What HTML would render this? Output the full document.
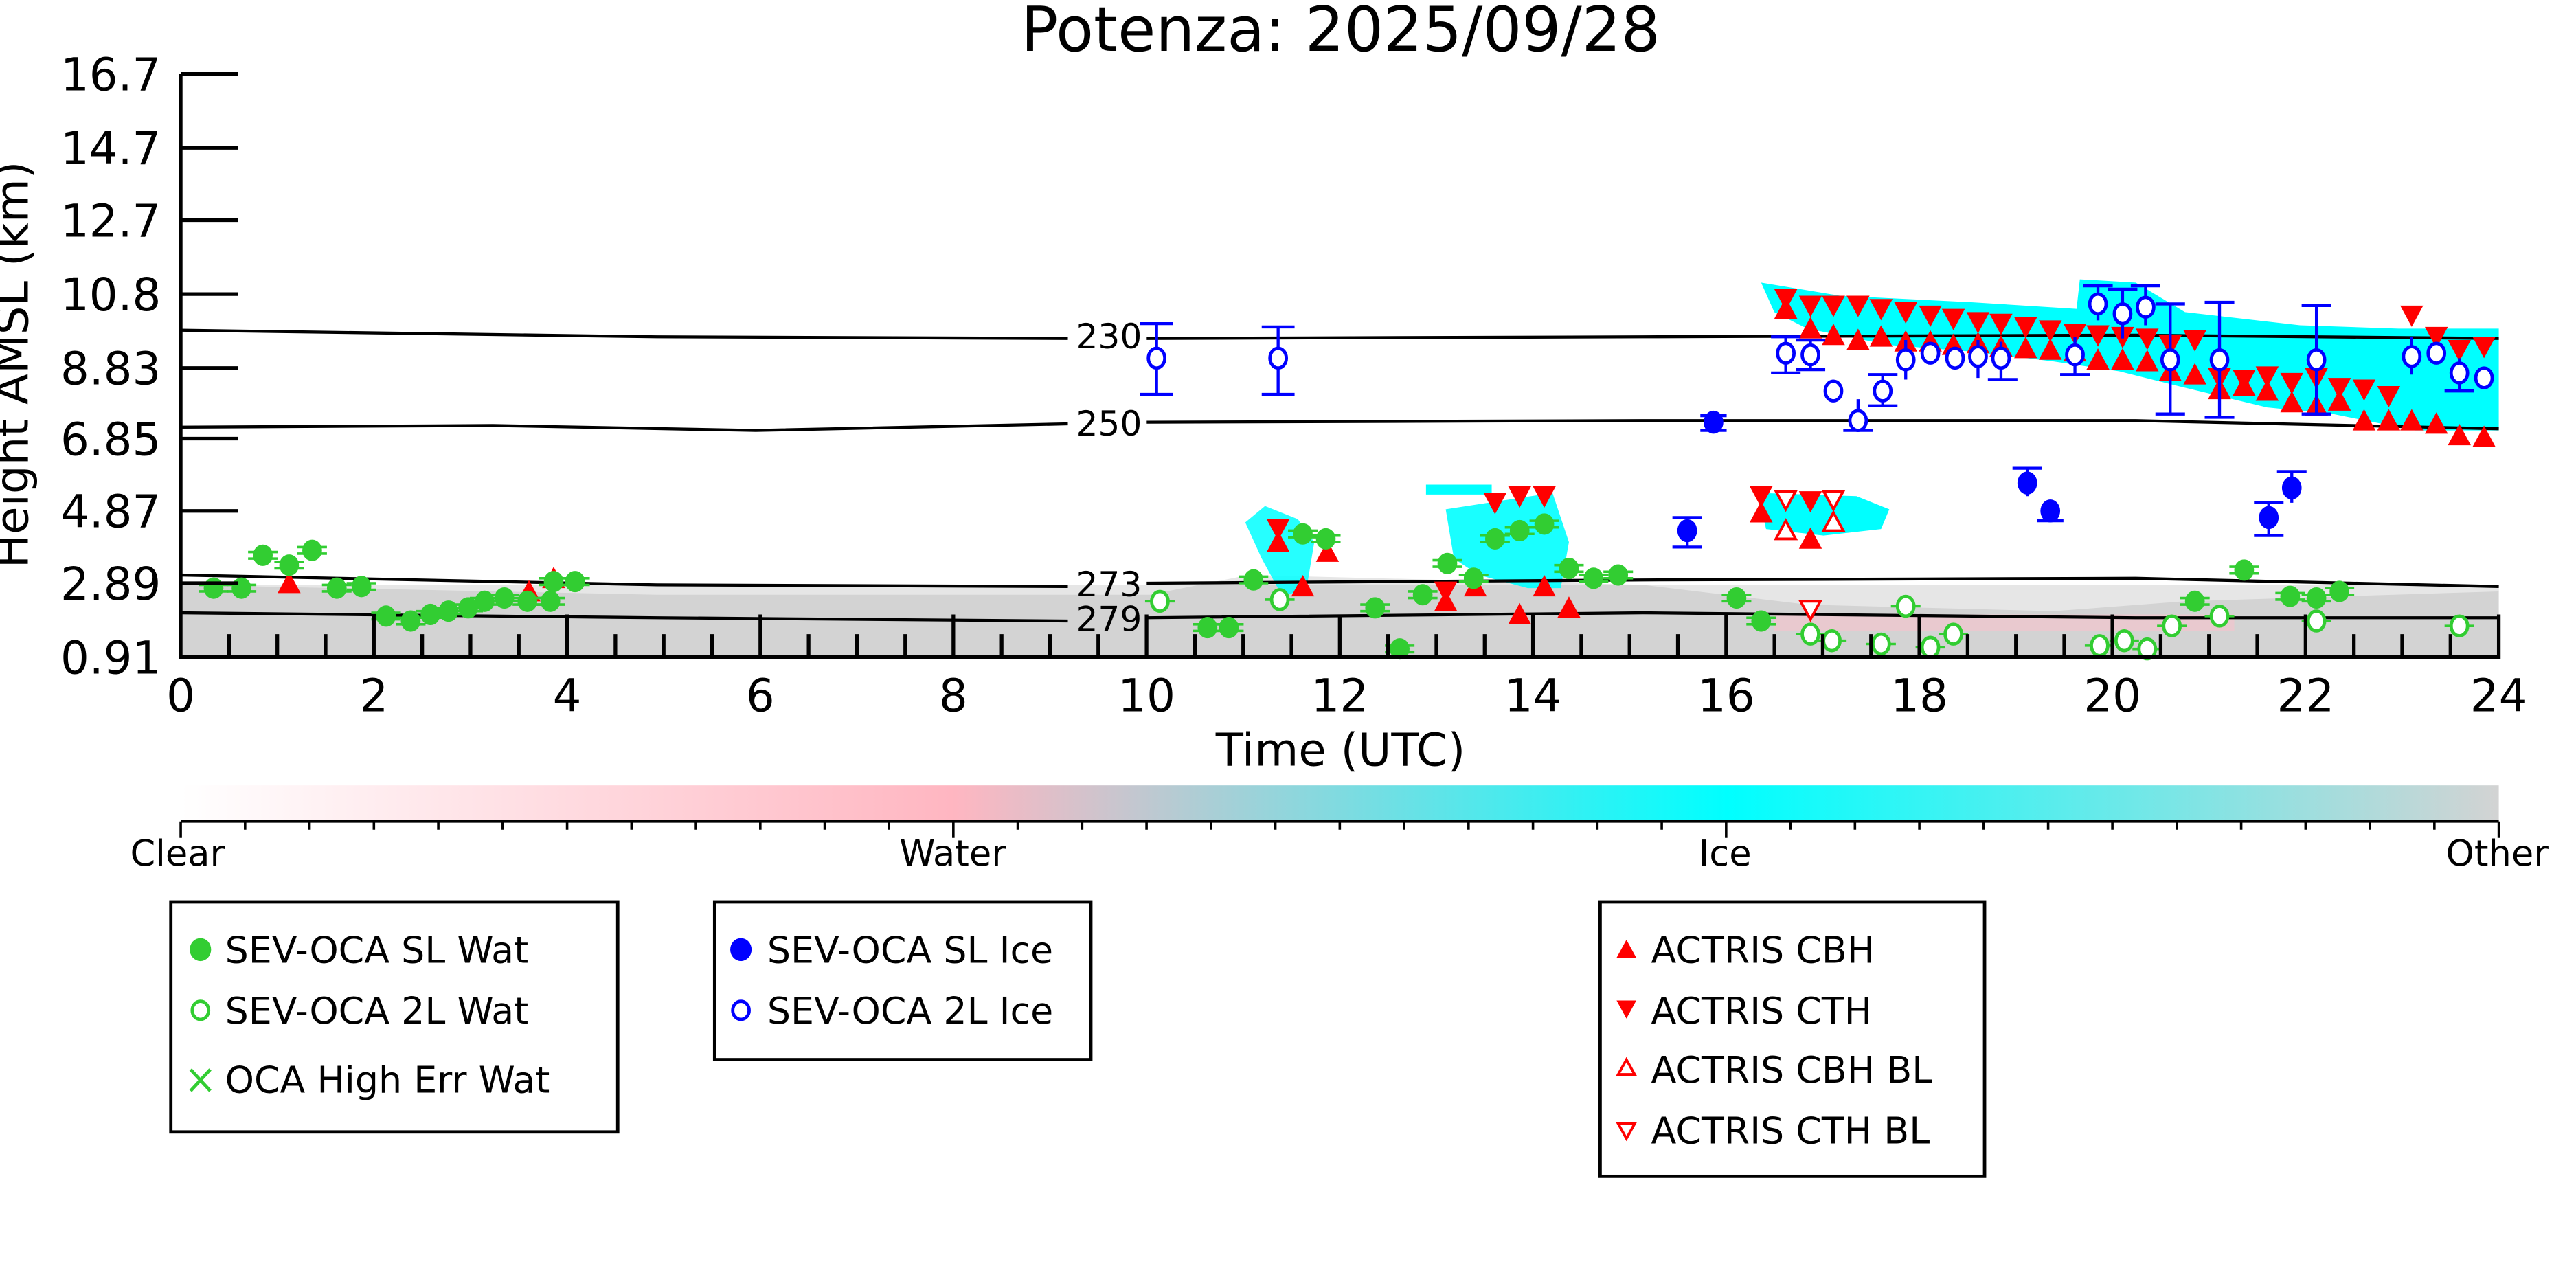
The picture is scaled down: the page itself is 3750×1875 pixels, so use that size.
<!DOCTYPE html>
<html><head><meta charset="utf-8"><style>
html,body{margin:0;padding:0;background:#fff}
svg{display:block}
text{font-family:"DejaVu Sans","Liberation Sans",sans-serif;fill:#000}
</style></head><body>
<svg xmlns="http://www.w3.org/2000/svg" width="3750" height="1875" viewBox="0 0 1568 784" preserveAspectRatio="none">
<defs>
<linearGradient id="cb" x1="0" x2="1" y1="0" y2="0">
<stop offset="0" stop-color="#ffffff"/><stop offset="0.333" stop-color="#ffb6c1"/>
<stop offset="0.667" stop-color="#00ffff"/><stop offset="1" stop-color="#d3d3d3"/>
</linearGradient>
<path id="tu" d="M0,-7 L7,6 L-7,6Z" fill="#ff0000"/>
<path id="td" d="M0,7 L7,-6 L-7,-6Z" fill="#ff0000"/>
<path id="tuo" d="M0,-6 L6,5 L-6,5Z" fill="#fff" stroke="#ff0000" stroke-width="1.6"/>
<path id="tdo" d="M0,6 L6,-5 L-6,-5Z" fill="#fff" stroke="#ff0000" stroke-width="1.6"/>
<g id="gf"><line x1="-9" x2="9" y1="-2" y2="-2" stroke="#32cd32" stroke-width="1.5"/><line x1="-9" x2="9" y1="2" y2="2" stroke="#32cd32" stroke-width="1.5"/><ellipse rx="6" ry="6.5" fill="#32cd32"/></g>
<g id="go"><line x1="-9" x2="9" y1="0" y2="0" stroke="#32cd32" stroke-width="1.5"/><ellipse rx="5" ry="6" fill="#fff" stroke="#32cd32" stroke-width="2"/></g>
<g id="bf"><ellipse rx="6" ry="7" fill="#0000ff"/></g>
<g id="bo"><ellipse rx="5" ry="6" fill="#fff" stroke="#0000ff" stroke-width="2"/></g>
</defs>

<text x="816" y="31" font-size="37.5" text-anchor="middle">Potenza: 2025/09/28</text>

<!-- ground gray -->
<rect x="110" y="356" width="1411" height="44" fill="#d3d3d3"/>
<path d="M110,356 L400,362 L700,362 L760,350 L1000,356 L1100,368 L1250,372 L1330,366 L1521,360 L1521,356 L110,356Z" fill="#e6e6e6"/>
<rect x="1080" y="374" width="280" height="10" fill="#ffc0cb" opacity="0.5"/>

<!-- cyan clouds -->
<path d="M1072,172 L1120,180 L1200,184 L1264,188 L1266,170 L1300,172 L1330,190 L1400,198 L1460,200 L1521,200 L1521,262 L1470,262 L1420,252 L1380,248 L1330,236 L1290,226 L1250,220 L1200,214 L1150,210 L1100,200 L1080,190Z" fill="#00ffff"/>
<path d="M758,318 L770,308 L790,316 L800,330 L795,360 L780,362 L768,340Z" fill="#00ffff" opacity="0.85"/>
<path d="M880,310 L945,300 L955,330 L950,358 L930,358 L900,350 L885,340Z" fill="#00ffff" opacity="0.9"/>
<rect x="868" y="295" width="40" height="6" fill="#00ffff"/>
<path d="M1070,300 L1130,302 L1150,310 L1145,322 L1110,326 L1075,322Z" fill="#00ffff"/>

<!-- contours -->
<g fill="none" stroke="#000" stroke-width="1.8">
<path d="M110,201 L400,205 L650,206 M698,206 L1000,205 L1300,204 L1521,206"/>
<path d="M110,260 L300,259 L460,262 L650,258 M698,257 L1000,256 L1300,256 L1521,261"/>
<path d="M110,350 L400,356 L650,357 M698,355 L1000,353 L1300,352 L1521,357"/>
<path d="M110,373 L400,376 L650,378 M698,376 L1000,373 L1300,376 L1521,376"/>
</g>
<g font-size="21">
<text x="655" y="212">230</text><text x="655" y="265">250</text>
<text x="655" y="363">273</text><text x="655" y="384">279</text>
</g>

<!-- red ACTRIS -->
<g>
<use href="#td" x="1087" y="182"/><use href="#tu" x="1087" y="188"/>
<use href="#td" x="1102" y="186"/><use href="#td" x="1116" y="186"/><use href="#td" x="1131" y="186"/><use href="#td" x="1145" y="188"/><use href="#td" x="1160" y="190"/><use href="#td" x="1175" y="192"/><use href="#td" x="1189" y="194"/><use href="#td" x="1204" y="196"/><use href="#td" x="1218" y="197"/><use href="#td" x="1233" y="199"/><use href="#td" x="1248" y="201"/><use href="#td" x="1263" y="203"/><use href="#td" x="1277" y="204"/><use href="#td" x="1292" y="205"/><use href="#td" x="1307" y="206"/><use href="#td" x="1321" y="210"/>
<use href="#td" x="1336" y="207"/><use href="#td" x="1351" y="230"/><use href="#td" x="1366" y="231"/><use href="#td" x="1380" y="229"/><use href="#td" x="1395" y="233"/><use href="#td" x="1410" y="230"/><use href="#td" x="1424" y="236"/><use href="#td" x="1439" y="237"/><use href="#td" x="1454" y="241"/><use href="#td" x="1468" y="192"/><use href="#td" x="1483" y="205"/><use href="#td" x="1497" y="213"/><use href="#td" x="1512" y="211"/>
<use href="#tu" x="1102" y="200"/><use href="#tu" x="1116" y="204"/><use href="#tu" x="1131" y="207"/><use href="#tu" x="1145" y="205"/><use href="#tu" x="1160" y="208"/><use href="#tu" x="1175" y="208"/><use href="#tu" x="1189" y="210"/><use href="#tu" x="1204" y="209"/><use href="#tu" x="1218" y="211"/><use href="#tu" x="1233" y="212"/><use href="#tu" x="1248" y="213"/><use href="#tu" x="1263" y="214"/><use href="#tu" x="1277" y="219"/><use href="#tu" x="1292" y="219"/><use href="#tu" x="1307" y="220"/><use href="#tu" x="1321" y="226"/><use href="#tu" x="1336" y="228"/><use href="#tu" x="1351" y="237"/><use href="#tu" x="1366" y="235"/><use href="#tu" x="1380" y="238"/><use href="#tu" x="1395" y="245"/><use href="#tu" x="1410" y="247"/><use href="#tu" x="1424" y="244"/><use href="#tu" x="1439" y="256"/><use href="#tu" x="1454" y="256"/><use href="#tu" x="1468" y="256"/><use href="#tu" x="1483" y="258"/><use href="#tu" x="1497" y="265"/><use href="#tu" x="1512" y="266"/>
<use href="#td" x="1072" y="302"/><use href="#tu" x="1072" y="312"/><use href="#tdo" x="1087" y="304"/><use href="#tuo" x="1087" y="323"/><use href="#td" x="1102" y="305"/><use href="#tu" x="1102" y="328"/><use href="#tdo" x="1116" y="304"/><use href="#tuo" x="1116" y="318"/>
<use href="#td" x="910" y="306"/><use href="#td" x="925" y="302"/><use href="#td" x="940" y="302"/>
<use href="#td" x="778" y="322"/><use href="#tu" x="778" y="330"/><use href="#tu" x="793" y="357"/><use href="#tu" x="808" y="336"/>
<use href="#td" x="880" y="360"/><use href="#tu" x="880" y="366"/><use href="#tu" x="925" y="374"/><use href="#tu" x="940" y="357"/><use href="#tu" x="955" y="370"/><use href="#tu" x="898" y="357"/>
<use href="#tu" x="176" y="355"/><use href="#tu" x="322" y="360"/><use href="#tu" x="337" y="352"/><use href="#tdo" x="1102" y="371"/>
</g>

<!-- blue -->
<g stroke="#0000ff" stroke-width="1.8" fill="none">
<path d="M704,197 V240 M694,197 H714 M694,240 H714 M778,199 V240 M768,199 H788 M768,240 H788"/>
<path d="M1087,205 V227 M1078,205 H1096 M1078,227 H1096 M1102,207 V225 M1093,207 H1111 M1093,225 H1111 M1131,243 V262 M1122,262 H1140 M1146,228 V247 M1137,228 H1155 M1137,247 H1155 M1160,207 V231 M1204,207 V230 M1218,208 V231 M1210,231 H1228"/>
<path d="M1277,174 V195 M1268,174 H1286 M1292,176 V206 M1283,176 H1301 M1306,174 V198 M1297,174 H1315 M1321,185 V252 M1312,185 H1330 M1312,252 H1330 M1351,184 V254 M1342,184 H1360 M1342,254 H1360 M1410,186 V252 M1401,186 H1419 M1401,252 H1419 M1263,205 V228 M1254,228 H1272 M1468,205 V228 M1497,218 V238 M1488,238 H1506"/>
<path d="M1027,315 V333 M1018,315 H1036 M1018,333 H1036 M1043,253 V262 M1035,253 H1051 M1035,262 H1051 M1234,285 V302 M1225,285 H1243 M1248,306 V317 M1240,317 H1256 M1381,306 V326 M1372,306 H1390 M1372,326 H1390 M1395,287 V306 M1386,287 H1404"/>
</g>
<g>
<use href="#bo" x="704" y="218"/><use href="#bo" x="778" y="218"/>
<use href="#bo" x="1087" y="215"/><use href="#bo" x="1102" y="216"/><use href="#bo" x="1116" y="238"/><use href="#bo" x="1131" y="256"/><use href="#bo" x="1146" y="238"/><use href="#bo" x="1160" y="219"/><use href="#bo" x="1175" y="215"/><use href="#bo" x="1190" y="218"/><use href="#bo" x="1204" y="217"/><use href="#bo" x="1218" y="218"/><use href="#bo" x="1263" y="216"/><use href="#bo" x="1277" y="185"/><use href="#bo" x="1292" y="191"/><use href="#bo" x="1306" y="187"/><use href="#bo" x="1321" y="219"/><use href="#bo" x="1351" y="219"/><use href="#bo" x="1410" y="219"/><use href="#bo" x="1468" y="217"/><use href="#bo" x="1483" y="215"/><use href="#bo" x="1497" y="227"/><use href="#bo" x="1512" y="230"/>
<use href="#bf" x="1027" y="323"/><use href="#bf" x="1043" y="257"/><use href="#bf" x="1234" y="294"/><use href="#bf" x="1248" y="311"/><use href="#bf" x="1381" y="315"/><use href="#bf" x="1395" y="297"/>
</g>

<!-- green -->
<g>
<use href="#gf" x="130" y="358"/><use href="#gf" x="147" y="358"/><use href="#gf" x="160" y="338"/><use href="#gf" x="176" y="344"/><use href="#gf" x="190" y="335"/><use href="#gf" x="205" y="358"/><use href="#gf" x="220" y="357"/><use href="#gf" x="235" y="375"/><use href="#gf" x="250" y="378"/><use href="#gf" x="262" y="374"/><use href="#gf" x="273" y="372"/><use href="#gf" x="285" y="370"/><use href="#gf" x="295" y="366"/><use href="#gf" x="307" y="364"/><use href="#gf" x="321" y="366"/><use href="#gf" x="335" y="366"/><use href="#gf" x="350" y="354"/><use href="#gf" x="337" y="354"/>
<use href="#gf" x="735" y="382"/><use href="#gf" x="748" y="382"/><use href="#gf" x="763" y="353"/><use href="#gf" x="793" y="325"/><use href="#gf" x="807" y="328"/><use href="#gf" x="837" y="370"/><use href="#gf" x="852" y="395"/><use href="#gf" x="866" y="362"/><use href="#gf" x="881" y="343"/><use href="#gf" x="897" y="352"/><use href="#gf" x="910" y="328"/><use href="#gf" x="925" y="323"/><use href="#gf" x="940" y="319"/><use href="#gf" x="955" y="346"/><use href="#gf" x="970" y="352"/><use href="#gf" x="985" y="350"/><use href="#gf" x="1057" y="364"/><use href="#gf" x="1072" y="378"/><use href="#gf" x="1336" y="366"/><use href="#gf" x="1366" y="347"/><use href="#gf" x="1394" y="363"/><use href="#gf" x="1410" y="364"/><use href="#gf" x="1424" y="360"/>
<use href="#go" x="706" y="366"/><use href="#go" x="779" y="365"/><use href="#go" x="1102" y="386"/><use href="#go" x="1115" y="390"/><use href="#go" x="1145" y="392"/><use href="#go" x="1160" y="369"/><use href="#go" x="1175" y="394"/><use href="#go" x="1189" y="386"/><use href="#go" x="1278" y="393"/><use href="#go" x="1293" y="390"/><use href="#go" x="1307" y="395"/><use href="#go" x="1322" y="381"/><use href="#go" x="1351" y="375"/><use href="#go" x="1410" y="378"/><use href="#go" x="1497" y="381"/>
</g>

<!-- axes -->
<g stroke="#000" stroke-width="2.2" fill="none">
<path d="M110,45 V400 H1521 V374"/>
<path d="M110,45 H145 M110,90 H145 M110,134 H145 M110,179 H145 M110,224 H145 M110,267 H145 M110,311 H145 M110,355 H145"/>
<path d="M227.6,400 V374 M345.2,400 V374 M462.8,400 V374 M580.3,400 V374 M697.9,400 V374 M815.5,400 V374 M933.1,400 V374 M1050.7,400 V374 M1168.3,400 V374 M1285.8,400 V374 M1403.4,400 V374"/>
<path d="M139.4,400 V386 M168.8,400 V386 M198.2,400 V386 M257,400 V386 M286.4,400 V386 M315.8,400 V386 M374.6,400 V386 M404,400 V386 M433.4,400 V386 M492.2,400 V386 M521.6,400 V386 M551,400 V386 M609.7,400 V386 M639.1,400 V386 M668.5,400 V386 M727.3,400 V386 M756.7,400 V386 M786.1,400 V386 M844.9,400 V386 M874.3,400 V386 M903.7,400 V386 M962.5,400 V386 M991.9,400 V386 M1021.3,400 V386 M1080.1,400 V386 M1109.5,400 V386 M1138.9,400 V386 M1197.7,400 V386 M1227.1,400 V386 M1256.5,400 V386 M1315.2,400 V386 M1344.6,400 V386 M1374,400 V386 M1432.8,400 V386 M1462.2,400 V386 M1491.6,400 V386"/>
</g>
<g font-size="27.5" text-anchor="end">
<text x="98" y="55">16.7</text><text x="98" y="100">14.7</text><text x="98" y="144">12.7</text><text x="98" y="189">10.8</text><text x="98" y="234">8.83</text><text x="98" y="277">6.85</text><text x="98" y="321">4.87</text><text x="98" y="365">2.89</text><text x="98" y="410">0.91</text>
</g>
<g font-size="27.5" text-anchor="middle">
<text x="110" y="433">0</text><text x="227.6" y="433">2</text><text x="345.2" y="433">4</text><text x="462.8" y="433">6</text><text x="580.3" y="433">8</text><text x="697.9" y="433">10</text><text x="815.5" y="433">12</text><text x="933.1" y="433">14</text><text x="1050.7" y="433">16</text><text x="1168.3" y="433">18</text><text x="1285.8" y="433">20</text><text x="1403.4" y="433">22</text><text x="1521" y="433">24</text>
<text x="816" y="466">Time (UTC)</text>
<text transform="translate(17,222) rotate(-90)">Height AMSL (km)</text>
</g>

<!-- colorbar -->
<rect x="110" y="478" width="1411" height="22" fill="url(#cb)"/>
<line x1="110" x2="1521" y1="500" y2="500" stroke="#000" stroke-width="1.5"/>
<g stroke="#000" stroke-width="1.5">
<path d="M110,500 V510 M580.3,500 V510 M1050.7,500 V510 M1521,500 V510 M149.2,500 V505 M188.4,500 V505 M227.6,500 V505 M266.8,500 V505 M306,500 V505 M345.2,500 V505 M384.4,500 V505 M423.6,500 V505 M462.8,500 V505 M502,500 V505 M541.1,500 V505 M619.5,500 V505 M658.7,500 V505 M697.9,500 V505 M737.1,500 V505 M776.3,500 V505 M815.5,500 V505 M854.7,500 V505 M893.9,500 V505 M933.1,500 V505 M972.3,500 V505 M1011.5,500 V505 M1089.9,500 V505 M1129.1,500 V505 M1168.3,500 V505 M1207.5,500 V505 M1246.7,500 V505 M1285.8,500 V505 M1325,500 V505 M1364.2,500 V505 M1403.4,500 V505 M1442.6,500 V505 M1481.8,500 V505"/>
</g>
<g font-size="22" text-anchor="middle">
<text x="108" y="527">Clear</text><text x="580" y="527">Water</text><text x="1050" y="527">Ice</text><text x="1520" y="527">Other</text>
</g>

<!-- legends -->
<g fill="#fff" stroke="#000" stroke-width="2">
<rect x="104" y="549" width="272" height="140"/>
<rect x="435" y="549" width="229" height="96"/>
<rect x="974" y="549" width="234" height="167"/>
</g>
<g font-size="22.5">
<ellipse cx="122" cy="578" rx="6.5" ry="7" fill="#32cd32"/><text x="137" y="586">SEV-OCA SL Wat</text>
<ellipse cx="122" cy="615" rx="5" ry="5.5" fill="none" stroke="#32cd32" stroke-width="2"/><text x="137" y="623">SEV-OCA 2L Wat</text>
<path d="M116,651 L128,664 M128,651 L116,664" stroke="#32cd32" stroke-width="2"/><text x="137" y="665">OCA High Err Wat</text>
<ellipse cx="451" cy="578" rx="6.5" ry="7" fill="#0000ff"/><text x="467" y="586">SEV-OCA SL Ice</text>
<ellipse cx="451" cy="615" rx="5" ry="5.5" fill="none" stroke="#0000ff" stroke-width="2"/><text x="467" y="623">SEV-OCA 2L Ice</text>
<path d="M990,572 L996,583 L984,583Z" fill="#ff0000"/><text x="1005" y="586">ACTRIS CBH</text>
<path d="M990,620 L996,609 L984,609Z" fill="#ff0000"/><text x="1005" y="623">ACTRIS CTH</text>
<path d="M990,645 L995,654 L985,654Z" fill="none" stroke="#ff0000" stroke-width="1.6"/><text x="1005" y="659">ACTRIS CBH BL</text>
<path d="M990,693 L995,684 L985,684Z" fill="none" stroke="#ff0000" stroke-width="1.6"/><text x="1005" y="696">ACTRIS CTH BL</text>
</g>
</svg>
</body></html>
